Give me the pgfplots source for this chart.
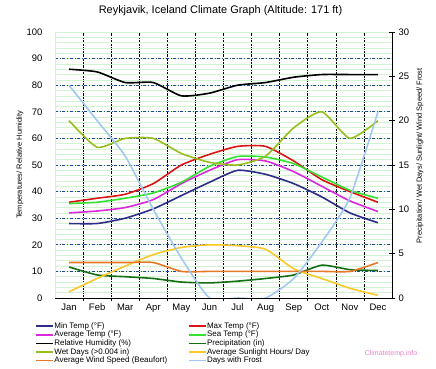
\documentclass[border=0pt]{standalone}
\usepackage{pgfplots}
\pgfplotsset{compat=1.18}
\usepackage{fontspec}
\setmainfont{Liberation Sans}
\definecolor{gridgreen}{RGB}{210,242,210}
\definecolor{gridblue}{RGB}{40,70,140}
\definecolor{cmin}{RGB}{45,45,135}
\definecolor{cmax}{RGB}{220,20,20}
\definecolor{cavg}{RGB}{220,40,220}
\definecolor{csea}{RGB}{50,225,50}
\definecolor{chum}{RGB}{0,0,0}
\definecolor{cpre}{RGB}{20,110,20}
\definecolor{cwet}{RGB}{150,190,30}
\definecolor{csun}{RGB}{250,200,40}
\definecolor{cwind}{RGB}{230,120,40}
\definecolor{cfrost}{RGB}{160,200,240}
\definecolor{wmpink}{RGB}{230,130,200}
\begin{document}
\begin{tikzpicture}
\useasboundingbox (0,0) rectangle (436bp,369bp);
\pgfplotsset{
  every axis plot/.append style={line width=1.6bp, smooth, tension=0.35},
}
\begin{axis}[
  at={(55bp,71bp)}, anchor=south west,
  scale only axis, width=337bp, height=266bp,
  clip mode=individual,
  xmin=0.5, xmax=12.5, ymin=0, ymax=100,
  axis x line*=bottom, axis y line*=left,
  x axis line style={black, line width=0.8bp, -},
  y axis line style={gridgreen, line width=0.8bp, -},
  xtick={1,...,12},
  xticklabels={Jan,Feb,Mar,Apr,May,Jun,Jul,Aug,Sep,Oct,Nov,Dec},
  major tick length=0bp, minor tick length=3bp, tick align=outside,
  minor xtick={1.5,2.5,...,11.5},
  xminorgrids, minor x grid style={black, densely dotted, line width=0.6bp},
  ytick={10,20,...,90}, ymajorgrids,
  major y grid style={gridblue, dash dot, line width=0.6bp},
  extra y ticks={0,100}, extra y tick style={grid=none},
  minor ytick={0,2,...,100}, yminorgrids,
  minor y grid style={gridgreen, line width=0.6bp},
  y tick style={draw=none},
  x tick style={black, line width=0.6bp},
  /pgf/number format/assume math mode=true,
  tick label style={font=\fontsize{9.5}{10}\selectfont},
  yticklabel style={xshift=-9bp},
  xticklabel style={yshift=-2bp},
  title={Reykjavik, Iceland Climate Graph (Altitude: 171 ft)},
  title style={at={(0.5,1)}, anchor=center, yshift=15bp, xshift=-3bp, inner sep=0pt, font=\fontsize{11}{11}\selectfont},
]
\addplot[cmin] coordinates {(1,28) (2,28) (3,30) (4,33.5) (5,38.5) (6,43.5) (7,48) (8,46.5) (9,43) (10,38) (11,32) (12,28.3)};
\addplot[cmax] coordinates {(1,36) (2,37.5) (3,39) (4,43) (5,50) (6,54) (7,57) (8,57) (9,51.5) (10,44.5) (11,40) (12,36)};
\addplot[cavg] coordinates {(1,32) (2,32.7) (3,34) (4,37) (5,43) (6,48) (7,52) (8,51.5) (9,47.5) (10,42) (11,36.5) (12,32.5)};
\addplot[csea] coordinates {(1,35.5) (2,36) (3,37.5) (4,39.5) (5,43.5) (6,49.5) (7,53.2) (8,53) (9,50.5) (10,45.5) (11,40.5) (12,37.5)};
\addplot[chum] coordinates {(1,86) (2,85) (3,81) (4,81) (5,76) (6,77) (7,80) (8,81) (9,83) (10,84) (11,84) (12,84)};
\node[rotate=90, font=\fontsize{7.5}{8}\selectfont, anchor=center] at (rel axis cs:-0.104,0.5) {Temperatures/ Relative Humidity};
\end{axis}
\begin{axis}[
  at={(55bp,71bp)}, anchor=south west,
  scale only axis, width=337bp, height=266bp,
  clip mode=individual,
  xmin=0.5, xmax=12.5, ymin=0, ymax=30,
  axis x line=none, axis y line*=right,
  y axis line style={black, line width=0.8bp, -},
  ytick={0,5,...,30}, tick align=center, major tick length=6bp,
  ytick style={black, line width=0.6bp},
  /pgf/number format/assume math mode=true,
  tick label style={font=\fontsize{9.5}{10}\selectfont},
  legend columns=2,
  legend cell align=left,
  legend style={draw=none, fill=none, at={(-0.0593,-0.0893)}, anchor=north west,
    inner sep=0pt, font=\fontsize{8}{8}\selectfont,
    nodes={inner sep=0.6bp, text height=5.8bp, text depth=1.6bp},
    /tikz/every even column/.append style={column sep=20bp}},
  legend image code/.code={\draw[#1, sharp plot] (0bp,0bp) -- (17bp,0bp);},
]
\addlegendimage{cmin, line width=1.6bp}
\addlegendentry{Min Temp (°F)}
\addlegendimage{cmax, line width=1.6bp}
\addlegendentry{Max Temp (°F)}
\addlegendimage{cavg, line width=1.6bp}
\addlegendentry{Average Temp (°F)}
\addlegendimage{csea, line width=1.6bp}
\addlegendentry{Sea Temp (°F)}
\addlegendimage{chum, line width=1.6bp}
\addlegendentry{Relative Humidity (\%)}
\addplot[cpre] coordinates {(1,3.5) (2,2.6) (3,2.4) (4,2.2) (5,1.8) (6,1.7) (7,1.9) (8,2.2) (9,2.6) (10,3.7) (11,3.2) (12,3.1)};
\addlegendentry{Precipitation (in)}
\addplot[cwet] coordinates {(1,20) (2,17) (3,18) (4,18) (5,16.3) (6,15.3) (7,15) (8,16) (9,19.2) (10,21) (11,18) (12,20)};
\addlegendentry{Wet Days (>0.004 in)}
\addplot[csun] coordinates {(1,0.7) (2,2.2) (3,3.6) (4,4.9) (5,5.7) (6,6.0) (7,5.9) (8,5.5) (9,3.3) (10,2.2) (11,1.1) (12,0.3)};
\addlegendentry{Average Sunlight Hours/ Day}
\addplot[cwind] coordinates {(1,4) (2,4) (3,4) (4,4) (5,3) (6,3) (7,3) (8,3) (9,3) (10,3) (11,3) (12,4)};
\addlegendentry{Average Wind Speed (Beaufort)}
\addplot[cfrost] coordinates {(1,24) (2,20) (3,16) (4,10) (5,4.5) (6,0) (7,0) (8,0) (9,2.2) (10,6.3) (11,11.3) (12,21)};
\addlegendentry{Days with Frost}
\node[rotate=90, font=\fontsize{7.5}{8}\selectfont, anchor=center] at (rel axis cs:1.083,0.535) {Precipitation/ Wet Days/ Sunlight/ Wind Speed/ Frost};
\end{axis}
\node[text=wmpink, font=\fontsize{7}{7}\selectfont, anchor=center] at (391bp,15bp) {Climatetemp.info};
\end{tikzpicture}
\end{document}
